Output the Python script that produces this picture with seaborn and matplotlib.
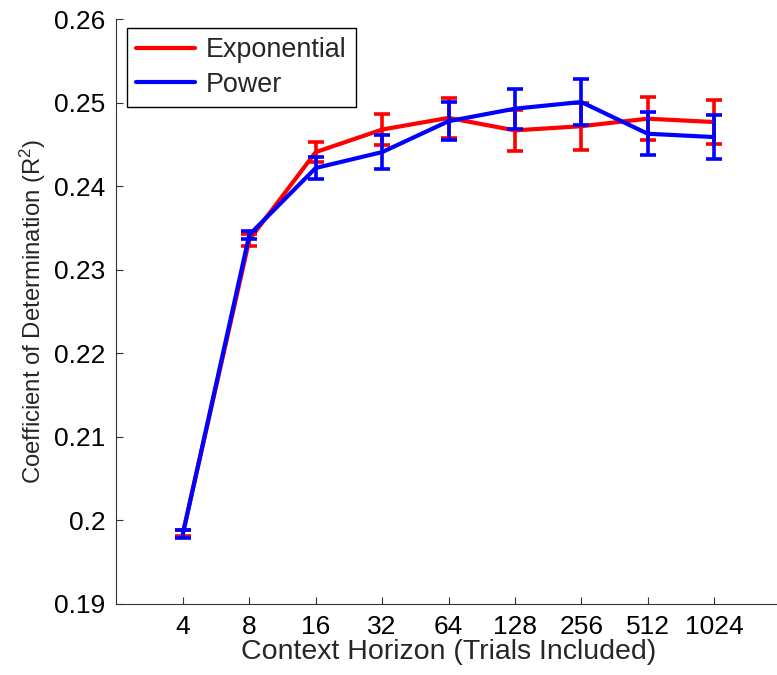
import numpy as np
import pandas as pd
import matplotlib
matplotlib.use("Agg")
import matplotlib.pyplot as plt
import seaborn as sns

# Context horizon (number of past trials included) and the two fitted models
horizons = [4, 8, 16, 32, 64, 128, 256, 512, 1024]
tick_labels = ["4", "8", "16", "32", "64", "128", "256", "512", "1024"]

exp_r2 = [0.1985, 0.2336, 0.2441, 0.2468, 0.2482, 0.2467, 0.2472, 0.2481, 0.2477]
exp_err = [0.0004, 0.0007, 0.0012, 0.0019, 0.0024, 0.0025, 0.0028, 0.0026, 0.0026]

pow_r2 = [0.1984, 0.2342, 0.2422, 0.2441, 0.2478, 0.2493, 0.2501, 0.2463, 0.2459]
pow_err = [0.0005, 0.0005, 0.0013, 0.0020, 0.0023, 0.0024, 0.0027, 0.0026, 0.0026]

sns.set_theme(style="ticks")
plt.rcParams["font.family"] = ["Liberation Sans", "DejaVu Sans"]
plt.rcParams["mathtext.fontset"] = "custom"
plt.rcParams["mathtext.rm"] = "Liberation Sans"
plt.rcParams["mathtext.it"] = "Liberation Sans"

FS = 19

x_pos = np.log2(horizons)
df = pd.DataFrame({
    "x": np.concatenate([x_pos, x_pos]),
    "r2": exp_r2 + pow_r2,
    "model": ["Exponential"] * len(horizons) + ["Power"] * len(horizons),
})
palette = {"Exponential": "#ff0000", "Power": "#0000ff"}

fig = plt.figure(figsize=(7.77, 6.75), dpi=100)
ax = fig.add_axes([116.5 / 777, 71 / 675, 664 / 777, 584.7 / 675])

sns.lineplot(data=df, x="x", y="r2", hue="model", palette=palette,
             linewidth=3.0, ax=ax, legend=True, sort=False)

for vals, errs, name, z in [(exp_r2, exp_err, "Exponential", 2),
                            (pow_r2, pow_err, "Power", 3)]:
    ax.errorbar(x_pos, vals, yerr=errs, fmt="none", ecolor=palette[name],
                elinewidth=2.6, capsize=5.5, capthick=2.6, zorder=z)
for line in ax.get_lines():
    if line.get_color() == "#0000ff":
        line.set_zorder(3)

ax.set_xlim(1, 11)
ax.set_ylim(0.19, 0.26)
ax.set_xticks(x_pos)
ax.set_xticklabels(tick_labels)
ax.set_yticks([0.19, 0.20, 0.21, 0.22, 0.23, 0.24, 0.25, 0.26])
ax.set_yticklabels(["0.19", "0.2", "0.21", "0.22", "0.23", "0.24", "0.25", "0.26"])

ax.tick_params(direction="in", length=5, width=0.8, colors="#333333",
               labelcolor="black", labelsize=FS, pad=8)
for side in ["top", "right"]:
    ax.spines[side].set_visible(False)
for side in ["left", "bottom"]:
    ax.spines[side].set_linewidth(0.8)
    ax.spines[side].set_color("#333333")

ax.set_xlabel("Context Horizon (Trials Included)", fontsize=20.5, labelpad=0)
ax.set_ylabel("Coefficient of Determination (R$^2$)", fontsize=17.2, labelpad=4.5)

leg = ax.legend(loc="upper left", bbox_to_anchor=(0.016, 0.985),
                borderaxespad=0, fontsize=19.4, frameon=True, fancybox=False,
                handlelength=2.2, handletextpad=0.4, labelspacing=0.33,
                borderpad=0.33)
leg.get_frame().set_edgecolor("black")
leg.get_frame().set_linewidth(1.0)
leg.get_frame().set_alpha(1.0)
for h in leg.get_lines():
    h.set_linewidth(3.0)

fig.savefig("out.png", dpi=100)
